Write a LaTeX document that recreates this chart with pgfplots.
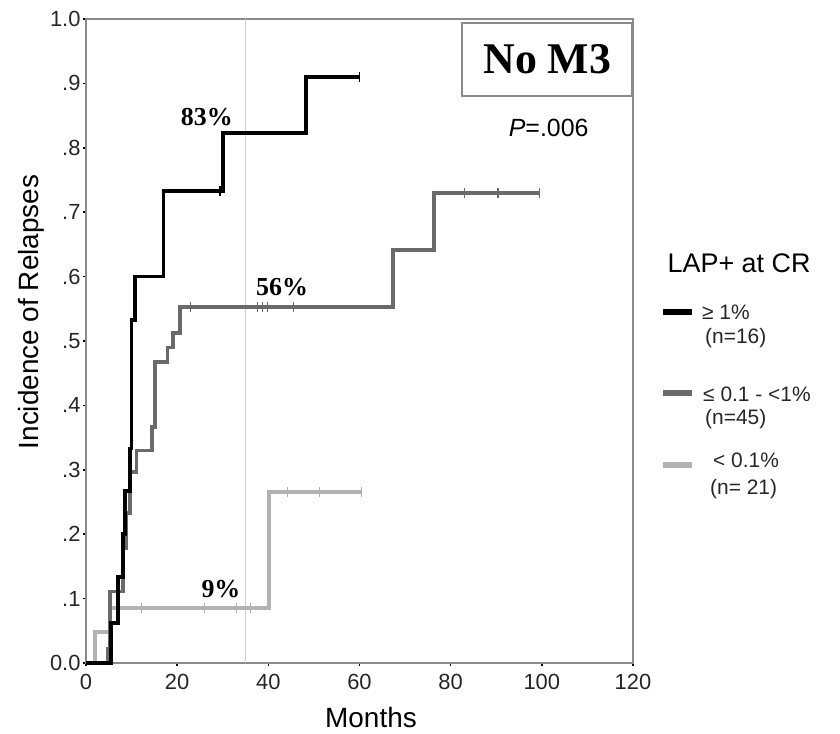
\documentclass[border=0pt]{standalone}
\usepackage{fontspec}
\setmainfont{Liberation Sans}
\newfontfamily\timesfont{Liberation Serif}
\usepackage{pgfplots}
\pgfplotsset{compat=1.18}
\definecolor{dkgray}{HTML}{6A6A6A}
\definecolor{ltgray}{HTML}{B2B2B2}
\definecolor{axgray}{HTML}{8A8A8A}
\tikzset{lgtext/.style={anchor=west, inner sep=0pt, font=\fontsize{21}{21}\selectfont, text=black!85}}
\begin{document}
\begin{tikzpicture}
\begin{axis}[
  scale only axis, width=547bp, height=644bp,
  xmin=0, xmax=120, ymin=0, ymax=1,
  clip=false,
  xtick={0,20,40,60,80,100,120},
  ytick={0,0.1,0.2,0.3,0.4,0.5,0.6,0.7,0.8,0.9,1.0},
  yticklabels={0.0,.1,.2,.3,.4,.5,.6,.7,.8,.9,1.0},
  xticklabels={0,20,40,60,80,100,120},
  tick pos=left, tick align=outside,
  major tick length=3bp,
  tick style={black, line width=1.6bp},
  axis line style={axgray, line width=1.5bp},
  ticklabel style={font=\fontsize{22}{22}\selectfont, text=black!85},
  xticklabel style={yshift=-5bp},
  yticklabel style={xshift=1bp},
  xlabel={Months},
  ylabel={Incidence of Relapses},
  xlabel style={font=\fontsize{28}{28}\selectfont, at={(axis description cs:0.521,-0.0854)}, anchor=center},
  ylabel style={font=\fontsize{28}{28}\selectfont, at={(axis description cs:-0.1006,0.545)}, anchor=center},
]
% reference vertical line
\addplot[ltgray!60, line width=0.8bp, forget plot] coordinates {(35,0) (35,1)};
% light gray: < 0.1%
\addplot[ltgray, line width=3.8bp, const plot, forget plot] coordinates {
 (0,0) (2,0.048) (5.2,0.085) (40.2,0.266) (60.5,0.266)};
% dark gray: 0.1 - <1%
\addplot[dkgray, line width=3.8bp, const plot, forget plot] coordinates {
 (0,0) (4.8,0.022) (5.3,0.111) (8.2,0.178) (8.8,0.233) (9.6,0.297) (11.1,0.33)
 (14.4,0.366) (15.1,0.468) (17.9,0.49) (19.1,0.512) (20.6,0.553)
 (67.3,0.641) (76.3,0.73) (99.5,0.73)};
% black: >= 1%
\addplot[black, line width=3.8bp, const plot, forget plot] coordinates {
 (0,0) (5.5,0.0625) (7,0.133) (8.2,0.2) (8.5,0.267) (9.6,0.333) (10,0.533)
 (10.7,0.6) (17,0.733) (30,0.823) (48.2,0.91) (60,0.91)};
% censor marks
\addplot[only marks, mark=|, mark size=5bp, ltgray, mark options={line width=1.2bp}, forget plot] coordinates {
 (12.2,0.085) (26,0.085) (33,0.085) (36,0.085) (44.2,0.266) (51.3,0.266) (60.5,0.266)};
\addplot[only marks, mark=|, mark size=5bp, dkgray, mark options={line width=1.2bp}, forget plot] coordinates {
 (23,0.553) (37.7,0.553) (38.8,0.553) (39.9,0.553) (45.6,0.553) (83.1,0.73) (90.4,0.73) (99.5,0.73)};
\addplot[only marks, mark=|, mark size=5bp, black, mark options={line width=1.2bp}, forget plot] coordinates {
 (29.4,0.733) (60,0.91)};
% annotations
\node[font=\fontsize{26}{26}\timesfont\bfseries] at (axis cs:26.5,0.848) {83\%};
\node[font=\fontsize{26}{26}\timesfont\bfseries] at (axis cs:43,0.584) {56\%};
\node[font=\fontsize{26}{26}\timesfont\bfseries] at (axis cs:29.6,0.115) {9\%};
\node[draw=axgray, line width=2bp, fill=white, minimum width=170bp, minimum height=73bp, inner sep=0pt,
  font=\fontsize{44}{44}\timesfont\bfseries] at (axis cs:101.2,0.937) {No M3};
\node[font=\fontsize{25}{25}\selectfont] at (axis cs:101.5,0.831) {\textit{P}=.006};
% legend
\node[font=\fontsize{27}{27}\selectfont] at (axis description cs:1.194,0.621) {LAP+ at CR};
\draw[black, line width=6bp] (axis description cs:1.0548,0.545) -- (axis description cs:1.1079,0.545);
\draw[dkgray, line width=6bp] (axis description cs:1.0548,0.4193) -- (axis description cs:1.1079,0.4193);
\draw[ltgray, line width=6bp] (axis description cs:1.0548,0.3075) -- (axis description cs:1.1079,0.3075);
\node[lgtext] at (axis description cs:1.1261,0.545) {≥ 1\%};
\node[lgtext] at (axis description cs:1.1316,0.505) {(n=16)};
\node[lgtext] at (axis description cs:1.128,0.4177) {≤ 0.1 - <1\%};
\node[lgtext] at (axis description cs:1.1316,0.3789) {(n=45)};
\node[lgtext] at (axis description cs:1.1463,0.3152) {< 0.1\%};
\node[lgtext] at (axis description cs:1.1408,0.2702) {(n= 21)};
\end{axis}
\pgfresetboundingbox
\path[use as bounding box] (-86bp,-71bp) rectangle (754bp,663bp);
\end{tikzpicture}
\end{document}
